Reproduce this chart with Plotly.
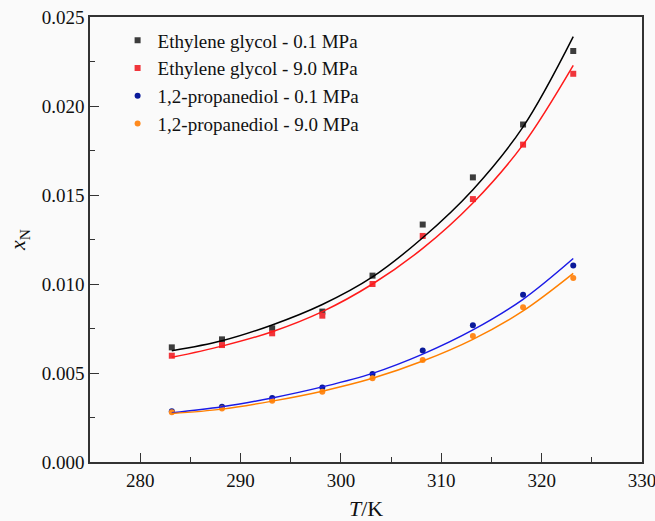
import plotly.graph_objects as go

T = [283.15, 288.15, 293.15, 298.15, 303.15, 308.15, 313.15, 318.15, 323.15]

eg_01_exp = [0.00644, 0.00689, 0.00751, 0.00845, 0.01047, 0.01334, 0.01599, 0.01896, 0.02309]
eg_90_exp = [0.00597, 0.00657, 0.00723, 0.00822, 0.01000, 0.01270, 0.01477, 0.01783, 0.02181]
pd_01_exp = [0.00285, 0.00310, 0.00359, 0.00419, 0.00494, 0.00627, 0.00768, 0.00940, 0.01104]
pd_90_exp = [0.00280, 0.00300, 0.00344, 0.00394, 0.00470, 0.00573, 0.00708, 0.00870, 0.01034]

eg_01_fit = [0.00625, 0.00681, 0.00770, 0.00885, 0.01040, 0.01260, 0.01530, 0.01883, 0.02390]
eg_90_fit = [0.00588, 0.00651, 0.00732, 0.00845, 0.01000, 0.01200, 0.01455, 0.01783, 0.02228]
pd_01_fit = [0.00276, 0.00310, 0.00360, 0.00422, 0.00498, 0.00606, 0.00742, 0.00914, 0.01143]
pd_90_fit = [0.00272, 0.00297, 0.00342, 0.00398, 0.00470, 0.00567, 0.00689, 0.00849, 0.01060]

names = ["Ethylene glycol - 0.1 MPa", "Ethylene glycol - 9.0 MPa",
         "1,2-propanediol - 0.1 MPa", "1,2-propanediol - 9.0 MPa"]
exps = [eg_01_exp, eg_90_exp, pd_01_exp, pd_90_exp]
fits = [eg_01_fit, eg_90_fit, pd_01_fit, pd_90_fit]
marker_colors = ["#3c3c3c", "#f0353b", "#0a1a9a", "#ff8a1e"]
line_colors = ["#000000", "#ff1a1a", "#1a1ae6", "#ff8000"]
symbols = ["square", "square", "circle", "circle"]

fig = go.Figure()
for name, y, mc, sym in zip(names, exps, marker_colors, symbols):
    fig.add_trace(go.Scatter(x=T, y=y, mode="markers", name=name,
                             marker=dict(symbol=sym, size=6, color=mc)))
for y, lc in zip(fits, line_colors):
    fig.add_trace(go.Scatter(x=T, y=y, mode="lines", showlegend=False,
                             line=dict(color=lc, width=1.5, shape="spline", smoothing=1.0)))

font_family = "Liberation Serif, Times New Roman, serif"
axis_common = dict(
    showline=True, linecolor="#333333", linewidth=1.5, mirror=True,
    ticks="inside", ticklen=9, tickwidth=1.2, tickcolor="#333333",
    showgrid=False, zeroline=False, automargin=False,
    ticklabeloverflow="allow",
    tickfont=dict(family=font_family, size=19, color="#111111"),
)
fig.update_layout(
    width=655, height=521,
    margin=dict(l=90, r=13, t=17, b=59),
    paper_bgcolor="#fafafa", plot_bgcolor="#fafafa",
    font=dict(family=font_family, color="#111111"),
    xaxis=dict(range=[275, 330], dtick=10, tick0=280,
               minor=dict(dtick=5, ticks="inside", ticklen=5, tickcolor="#333333"),
               title=dict(text="<i>T</i>/K", font=dict(size=22), standoff=12),
               **axis_common),
    yaxis=dict(range=[0, 0.025], dtick=0.005, tickformat=".3f",
               minor=dict(dtick=0.0025, ticks="inside", ticklen=5, tickcolor="#333333"),
               title=dict(text="<i>x</i><sub>N</sub>", font=dict(size=22), standoff=10),
               **axis_common),
    legend=dict(x=0.05, y=0.99, xanchor="left", yanchor="top",
                bgcolor="rgba(0,0,0,0)", font=dict(family=font_family, size=19)),
    showlegend=True,
)
fig.write_html("out.html", config={"displayModeBar": False},
               post_script="document.body.style.margin='0';")
